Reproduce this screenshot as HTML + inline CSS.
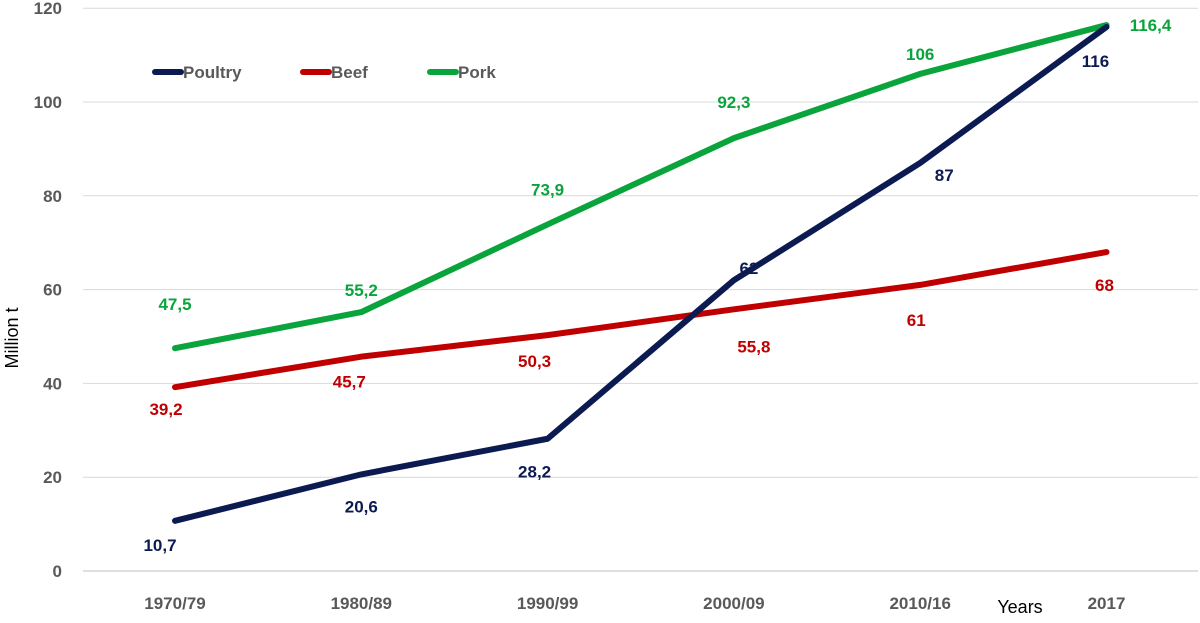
<!DOCTYPE html>
<html><head><meta charset="utf-8"><style>
body{margin:0;background:#fff;}
svg text{font-family:"Liberation Sans",sans-serif;}
</style></head><body>
<svg id="chart" width="1200" height="618">
<g id="grid"></g><g id="axes"></g><g id="series"></g><g id="labels"></g>
<text x="18" y="338" transform="rotate(-90 18 338)" text-anchor="middle" font-size="18" fill="#000">Million t</text>
<text x="1020" y="613" text-anchor="middle" font-size="18" fill="#000">Years</text>
<g>
<g><line x1="155" y1="72" x2="181" y2="72" stroke="#0c1a52" stroke-width="6" stroke-linecap="round"/><text x="183" y="78" font-size="17" font-weight="bold" fill="#595959">Poultry</text></g>
<g><line x1="303" y1="72" x2="329" y2="72" stroke="#c00000" stroke-width="6" stroke-linecap="round"/><text x="331" y="78" font-size="17" font-weight="bold" fill="#595959">Beef</text></g>
<g><line x1="430" y1="72" x2="456" y2="72" stroke="#0aa43c" stroke-width="6" stroke-linecap="round"/><text x="458" y="78" font-size="17" font-weight="bold" fill="#595959">Pork</text></g>
</g>
</svg>
<script>
const categories=["1970/79","1980/89","1990/99","2000/09","2010/16","2017"];
const poultry=[10.7,20.6,28.2,62,87,116];
const beef=[39.2,45.7,50.3,55.8,61,68];
const pork=[47.5,55.2,73.9,92.3,106,116.4];
const poultryText=["10,7","20,6","28,2","62","87","116"];
const beefText=["39,2","45,7","50,3","55,8","61","68"];
const porkText=["47,5","55,2","73,9","92,3","106","116,4"];
const yTicks=[0,20,40,60,80,100,120];
const NS="http://www.w3.org/2000/svg";
const x=i=>175+i*186.3;
const y=v=>571-v*4.69;
function mk(tag,attrs,parent){const e=document.createElementNS(NS,tag);for(const k in attrs)e.setAttribute(k,attrs[k]);parent.appendChild(e);return e;}
const grid=document.getElementById('grid'),axes=document.getElementById('axes'),ser=document.getElementById('series'),lab=document.getElementById('labels');
yTicks.forEach(t=>{
 const l=mk('line',{x1:83,x2:1198,y1:y(t),y2:y(t),stroke:t===0?'#bfbfbf':'#d9d9d9','stroke-width':1},grid);
 
 
 const tx=mk('text',{x:62,y:y(t)+6,'text-anchor':'end','font-size':17,'font-weight':'bold',fill:'#595959'},axes);
 tx.textContent=t;
 
 
});
categories.forEach((c,i)=>{
 const tx=mk('text',{x:x(i),y:609,'text-anchor':'middle','font-size':17,'font-weight':'bold',fill:'#595959'},axes);
 tx.textContent=c;
 
 
});
function series(name,vals,txt,color,offs){
 const p=mk('polyline',{points:vals.map((v,i)=>x(i)+','+y(v)).join(' '),fill:'none',stroke:color,'stroke-width':6,'stroke-linejoin':'round','stroke-linecap':'round'},ser);
 
 
 vals.forEach((v,i)=>{
  const t=mk('text',{x:x(i)+offs[i][0],y:y(v)+offs[i][1]+6,'text-anchor':'middle','font-size':17,'font-weight':'bold',fill:color},lab);
  t.textContent=txt[i];
  
  
 });
}
series('beef',beef,beefText,'#c00000',[[-9,22],[-12,25],[-13,26],[20,37],[-4,35],[-2,33]]);
series('pork',pork,porkText,'#0aa43c',[[0,-44],[0,-22],[0,-35],[0,-36],[0,-20],[44,0]]);
series('poultry',poultry,poultryText,'#0c1a52',[[-15,24],[0,32],[-13,33],[15,-12],[24,12],[-11,34]]);
</script>
</body></html>
